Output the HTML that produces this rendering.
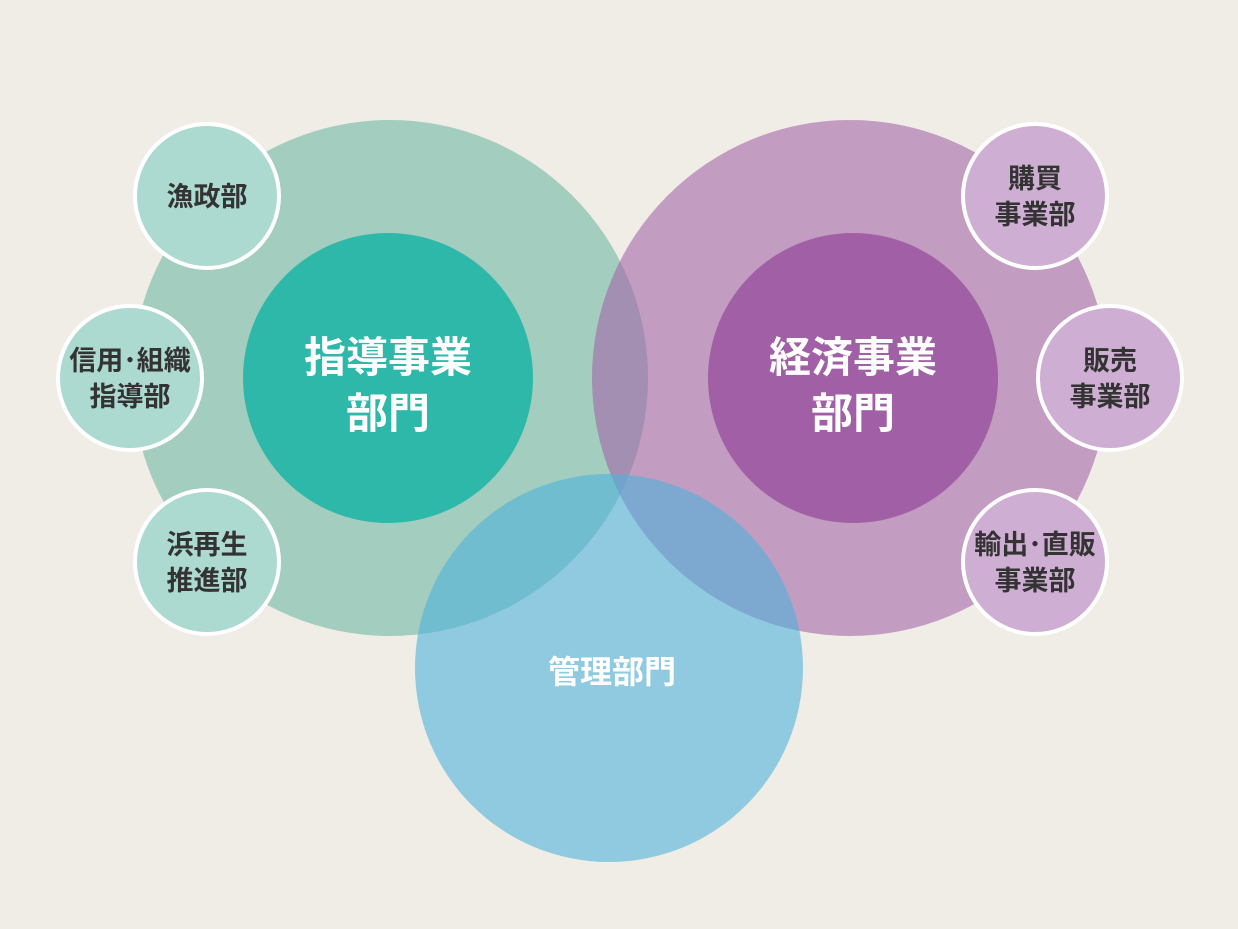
<!DOCTYPE html>
<html><head><meta charset="utf-8"><style>
html,body{margin:0;padding:0;width:1238px;height:929px;overflow:hidden;background:#f0ede7;}
svg{display:block}
text{font-family:"Liberation Sans","Noto Sans CJK JP",sans-serif;font-weight:bold;text-anchor:middle}
</style></head><body>
<svg width="1238" height="929" viewBox="0 0 1238 929">
<rect width="1238" height="929" fill="#f0ede7"/>
<circle cx="390" cy="378" r="258" fill="#6fb8a4" fill-opacity="0.6"/>
<circle cx="850" cy="378" r="258" fill="#a366a8" fill-opacity="0.6"/>
<circle cx="609" cy="668" r="194" fill="#4fb3dc" fill-opacity="0.6"/>
<circle cx="388" cy="378" r="145" fill="#2db8a9"/>
<circle cx="853" cy="378" r="145" fill="#a15fa6"/>
<g stroke="#fff" stroke-width="4">
<circle cx="207" cy="196" r="72" fill="#acd9d0"/>
<circle cx="130" cy="378" r="72" fill="#acd9d0"/>
<circle cx="207" cy="562" r="72" fill="#acd9d0"/>
<circle cx="1035" cy="196" r="72" fill="#cfaed3"/>
<circle cx="1110" cy="378" r="72" fill="#cfaed3"/>
<circle cx="1035" cy="562" r="72" fill="#cfaed3"/>
</g>
<g fill="#fff" font-size="42">
<text x="388" y="372">指導事業</text><text x="388" y="428">部門</text>
<text x="853" y="372">経済事業</text><text x="853" y="428">部門</text>
</g>
<text x="612" y="683" fill="#fff" font-size="32">管理部門</text>
<g fill="#333" font-size="27">
<text x="207" y="206">漁政部</text>
<text x="130" y="370">信用･組織</text><text x="130" y="406">指導部</text>
<text x="207" y="554">浜再生</text><text x="207" y="590">推進部</text>
<text x="1035" y="188">購買</text><text x="1035" y="224">事業部</text>
<text x="1110" y="370">販売</text><text x="1110" y="406">事業部</text>
<text x="1035" y="554">輸出･直販</text><text x="1035" y="590">事業部</text>
</g>
</svg>
</body></html>
